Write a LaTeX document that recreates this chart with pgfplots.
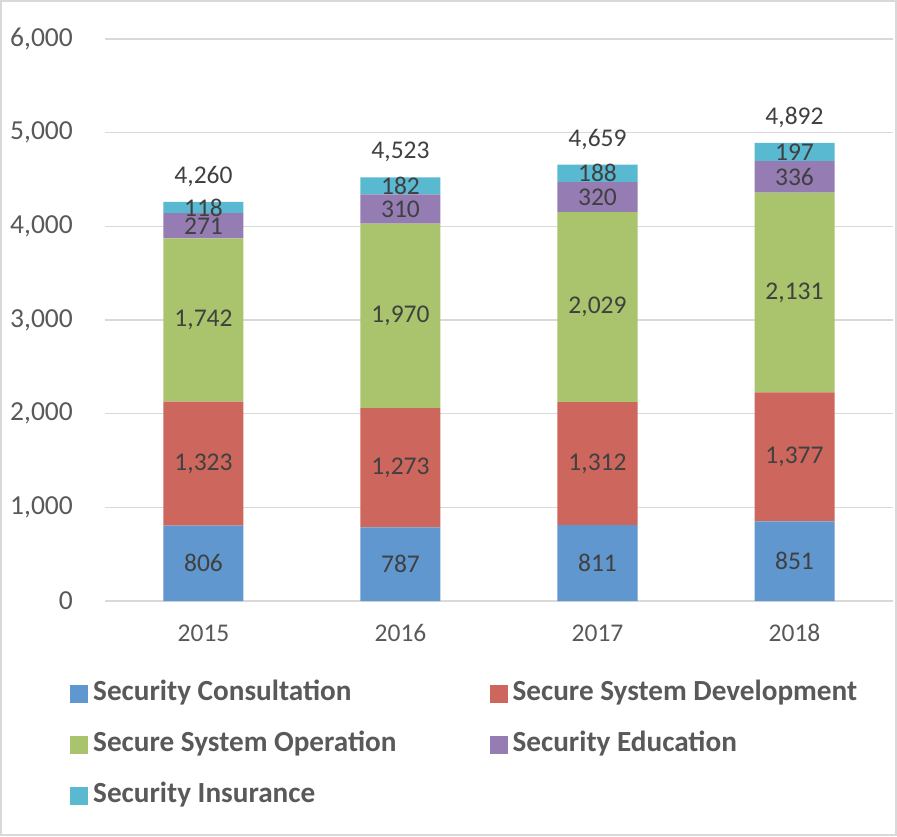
\documentclass[border=0pt]{standalone}
\usepackage{pgfplots}
\pgfplotsset{compat=1.18}
\usepackage{fontspec}
\setmainfont{Carlito}

\definecolor{cBlue}{HTML}{6097CE}
\definecolor{cRed}{HTML}{CD665D}
\definecolor{cGreen}{HTML}{A9C46C}
\definecolor{cPurple}{HTML}{957CB2}
\definecolor{cCyan}{HTML}{58B9D1}
\definecolor{gridgray}{HTML}{D9D9D9}
\definecolor{ticktext}{HTML}{595959}
\definecolor{labeltext}{HTML}{404040}

\pgfplotsset{
  frame/.style={
    at={(0pt,0pt)}, anchor=south west,
    scale only axis,
    width=788pt, height=562pt,
    xmin=-0.5, xmax=3.5, ymin=0, ymax=6000,
  },
  seglabel/.style={
    nodes near coords,
    every node near coord/.append style={anchor=center},
  },
}

\begin{document}
\begin{tikzpicture}
\useasboundingbox (-105pt,-235pt) rectangle (792pt,601pt);
\draw[gridgray, line width=1.5pt] (-104pt,-234pt) rectangle (791pt,600pt);
\begin{axis}[
  frame,
  ybar stacked, bar width=80pt,
  xtick={0,1,2,3}, xticklabels={2015,2016,2017,2018},
  ytick={0,1000,...,6000},
  ymajorgrids, grid style={gridgray, line width=1.5pt},
  axis line style={draw=none},
  major tick length=0pt,
  /pgf/number format/assume math mode=true,
  /pgf/number format/1000 sep={,},
  yticklabel style={font=\fontsize{27.5}{32}\selectfont, text=ticktext, anchor=east, inner sep=0pt, xshift=-32pt},
  xticklabel style={font=\fontsize{25.5}{30}\selectfont, text=ticktext, anchor=center, yshift=-32pt},
  every node near coord/.append style={font=\fontsize{25.5}{30}\selectfont, text=labeltext},
  legend columns=2,
  legend cell align=left,
  legend image code/.code={\fill[#1] (0pt,-9pt) rectangle (18pt,9pt);},
  legend style={at={(0,0)}, anchor=north west, xshift=-35pt, yshift=-78pt,
    draw=none, fill=none, inner sep=0pt, row sep=22pt,
    font=\bfseries\fontsize{29.2}{34}\selectfont, text=ticktext,
    nodes={text height=19pt, text depth=6pt, inner sep=2pt},
    /tikz/every odd column/.append style={column sep=3pt},
    /tikz/every even column/.append style={column sep=91pt}},
]
\addplot[fill=cBlue, draw=none, seglabel] coordinates {(0,806) (1,787) (2,811) (3,851)};
\addlegendentry{Security Consultation}
\addplot[fill=cRed, draw=none, seglabel] coordinates {(0,1323) (1,1273) (2,1312) (3,1377)};
\addlegendentry{Secure System Development}
\addplot[fill=cGreen, draw=none, seglabel] coordinates {(0,1742) (1,1970) (2,2029) (3,2131)};
\addlegendentry{Secure System Operation}
\addplot[fill=cPurple, draw=none, seglabel] coordinates {(0,271) (1,310) (2,320) (3,336)};
\addlegendentry{Security Education}
\addplot[fill=cCyan, draw=none, seglabel] coordinates {(0,118) (1,182) (2,188) (3,197)};
\addlegendentry{Security Insurance}
\end{axis}
% totals above the bars, on an overlaid axis with the same frame
\begin{axis}[frame, hide axis,
  /pgf/number format/assume math mode=true,
  /pgf/number format/1000 sep={,}]
\addplot[draw=none, mark=none, nodes near coords, point meta=y,
  every node near coord/.append style={anchor=center, yshift=25pt,
    font=\fontsize{25.5}{30}\selectfont, text=labeltext}]
  coordinates {(0,4260) (1,4523) (2,4659) (3,4892)};
\end{axis}
\end{tikzpicture}
\end{document}
